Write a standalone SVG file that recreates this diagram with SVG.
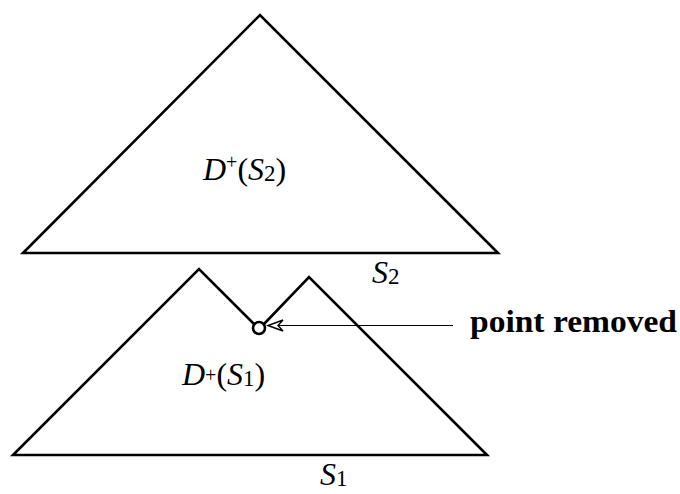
<svg xmlns="http://www.w3.org/2000/svg" width="680" height="494" viewBox="0 0 680 494">
<style>
.shape{fill:none;stroke:#000;stroke-width:2.6;stroke-linejoin:miter;stroke-linecap:butt}
.lbl{font-family:"Liberation Serif","DejaVu Serif",serif;font-size:32px;fill:#000}
.it{font-style:italic}
.bold{font-family:"Liberation Serif","DejaVu Serif",serif;font-size:32px;font-weight:bold;fill:#000}
.arrow{fill:none;stroke:#000;stroke-width:1.2}
</style>
<defs>
<marker id="barb" markerUnits="userSpaceOnUse" markerWidth="20" markerHeight="16" refX="16" refY="7" orient="auto" overflow="visible">
<path d="M16,7 L1,1.5 L6,7 L1,12.5 Z" fill="#fff" stroke="#000" stroke-width="1.4" stroke-linejoin="miter"/>
</marker>
</defs>
<rect width="680" height="494" fill="#fff"/>
<g id="upper-region">
<path class="shape" d="M23,253 L260,15 L498,253 Z"/>
<text class="lbl" x="203" y="180"><tspan class="it">D</tspan><tspan font-size="20" dy="-11">+</tspan><tspan dy="11">(</tspan><tspan class="it">S</tspan><tspan font-size="23" dy="1">2</tspan><tspan dy="-1">)</tspan></text>
<text class="lbl" x="372" y="283"><tspan class="it">S</tspan><tspan font-size="23" dy="1">2</tspan></text>
</g>
<g id="lower-region">
<path class="shape" d="M254,324 L199,269 L13,455 L487,455 L309,277 L264,324"/>
<circle class="shape" cx="259" cy="328" r="6"/>
<text class="lbl" x="182" y="385"><tspan class="it">D</tspan><tspan font-size="20" dy="-3">+</tspan><tspan dy="3">(</tspan><tspan class="it">S</tspan><tspan font-size="23" dy="1">1</tspan><tspan dy="-1">)</tspan></text>
<text class="lbl" x="320" y="485"><tspan class="it">S</tspan><tspan font-size="23" dy="1">1</tspan></text>
</g>
<g id="annotation">
<text class="bold" x="470" y="332" textLength="207" lengthAdjust="spacingAndGlyphs">point removed</text>
</g>
<g id="connectors">
<line class="arrow" x1="453" y1="325.5" x2="268" y2="325.5" marker-end="url(#barb)"/>
</g>
</svg>
